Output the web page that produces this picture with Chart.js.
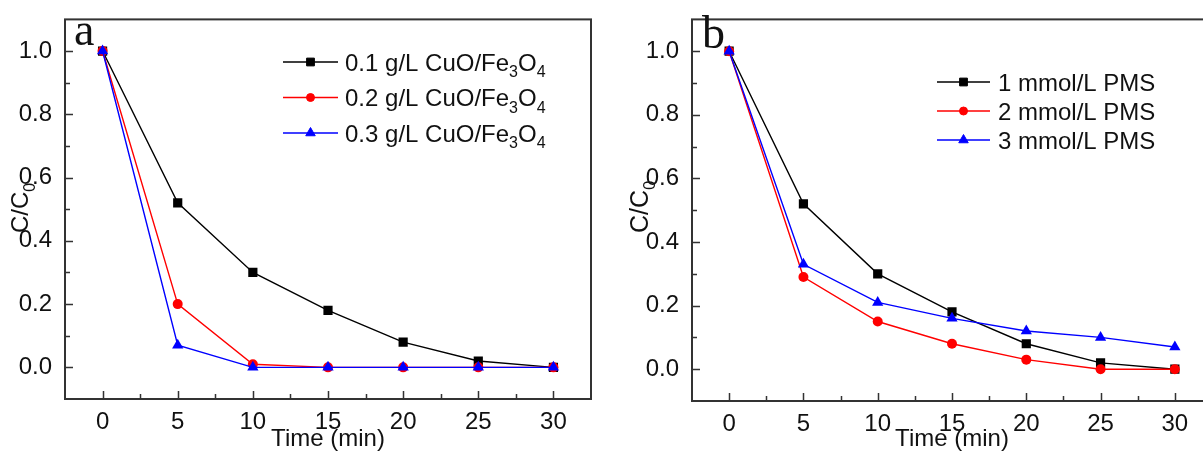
<!DOCTYPE html>
<html lang="en">
<head>
<meta charset="UTF-8">
<title>CuO/Fe3O4 degradation kinetics</title>
<script src="https://cdn.jsdelivr.net/npm/chart.js"></script>
<style>
  html, body { margin: 0; padding: 0; background: #fff; overflow: hidden; }
  .wrap { position: relative; width: 1203px; height: 451px; overflow: hidden; }
  .panel { position: absolute; top: 0; height: 451px; }
  #panelA { left: 0; width: 601px; }
  #panelB { left: 601px; width: 620px; }
</style>
</head>
<body>
<div class="wrap">
  <div class="panel" id="panelA"><canvas id="chartA" width="601" height="451"></canvas></div>
  <div class="panel" id="panelB"><canvas id="chartB" width="620" height="451"></canvas></div>
</div>
<script>
// sampling times (min) and axis ticks
const times = [0, 5, 10, 15, 20, 25, 30];
const xTicks = [0, 5, 10, 15, 20, 25, 30];
const xMinorTicks = [2.5, 7.5, 12.5, 17.5, 22.5, 27.5];
const yTicks = [0, 0.2, 0.4, 0.6, 0.8, 1.0];
const yMinorTicks = [0.1, 0.3, 0.5, 0.7, 0.9];

// (a) catalyst dosage, C/C0
const dose01 = [1.0, 0.52, 0.30, 0.18, 0.08, 0.02, 0.0];
const dose02 = [1.0, 0.20, 0.01, 0.0, 0.0, 0.0, 0.0];
const dose03 = [1.0, 0.07, 0.0, 0.0, 0.0, 0.0, 0.0];
const labelsA = ['0.1 g/L CuO/Fe_3O_4', '0.2 g/L CuO/Fe_3O_4', '0.3 g/L CuO/Fe_3O_4'];

// (b) PMS concentration, C/C0
const pms1 = [1.0, 0.52, 0.30, 0.18, 0.08, 0.02, 0.0];
const pms2 = [1.0, 0.29, 0.15, 0.08, 0.03, 0.0, 0.0];
const pms3 = [1.0, 0.33, 0.21, 0.16, 0.12, 0.10, 0.07];
const labelsB = ['1 mmol/L PMS', '2 mmol/L PMS', '3 mmol/L PMS'];

const FONT = '"Liberation Sans", Arial, sans-serif';
const TEXT = '#111';
const colors = ['#000000', '#ff0000', '#0000ff'];
const styles = ['rect', 'circle', 'triangle'];
const radii = [6.5, 5, 6.5];

// draws a string where "_x" marks a subscript character
function drawRich(ctx, str, x, y, size) {
  const parts = str.split(/(_\d)/).filter(p => p.length);
  ctx.textAlign = 'left';
  ctx.textBaseline = 'alphabetic';
  for (const p of parts) {
    if (p[0] === '_') {
      ctx.font = Math.round(size * 0.68) + 'px ' + FONT;
      ctx.fillText(p.slice(1), x, y + size * 0.28);
      x += ctx.measureText(p.slice(1)).width;
    } else {
      ctx.font = size + 'px ' + FONT;
      ctx.fillText(p, x, y);
      x += ctx.measureText(p).width;
    }
  }
}

function marker(ctx, style, r, color, x, y) {
  ctx.save();
  ctx.fillStyle = color;
  ctx.strokeStyle = color;
  ctx.lineWidth = 1;
  Chart.helpers.drawPoint(ctx, { pointStyle: style, radius: r, rotation: 0, borderWidth: 1 }, x, y);
  ctx.restore();
}

// frame, inward ticks, y title, legend and panel letter
const panelDecor = {
  id: 'panelDecor',
  afterDraw(chart, args, opts) {
    const ctx = chart.ctx;
    const { left, right, top, bottom } = chart.chartArea;
    const xs = chart.scales.x, ys = chart.scales.y;
    ctx.save();
    ctx.strokeStyle = '#333';
    ctx.lineWidth = 2;
    ctx.strokeRect(left, top, right - left, bottom - top);

    ctx.lineWidth = 1.5;
    ctx.beginPath();
    xTicks.forEach(v => { const px = Math.round(xs.getPixelForValue(v)) + 0.5; ctx.moveTo(px, bottom); ctx.lineTo(px, bottom - 8); });
    xMinorTicks.forEach(v => { const px = Math.round(xs.getPixelForValue(v)) + 0.5; ctx.moveTo(px, bottom); ctx.lineTo(px, bottom - 5); });
    yTicks.forEach(v => { const py = Math.round(ys.getPixelForValue(v)) + 0.5; ctx.moveTo(left, py); ctx.lineTo(left + 8, py); });
    yMinorTicks.forEach(v => { const py = Math.round(ys.getPixelForValue(v)) + 0.5; ctx.moveTo(left, py); ctx.lineTo(left + 5, py); });
    ctx.stroke();

    // y axis title C/C0, rotated
    ctx.fillStyle = TEXT;
    ctx.save();
    ctx.translate(opts.yTitle.x, opts.yTitle.y);
    ctx.rotate(-Math.PI / 2);
    drawRich(ctx, 'C/C_0', 0, 0, opts.yTitle.size);
    ctx.restore();

    // legend
    opts.legend.labels.forEach((lab, i) => {
      const y = opts.legend.y + i * opts.legend.gap;
      ctx.strokeStyle = colors[i];
      ctx.lineWidth = 1.3;
      ctx.beginPath();
      ctx.moveTo(opts.legend.x0, y);
      ctx.lineTo(opts.legend.x1, y);
      ctx.stroke();
      marker(ctx, styles[i], radii[i] - 1, colors[i], (opts.legend.x0 + opts.legend.x1) / 2, y);
      ctx.fillStyle = TEXT;
      drawRich(ctx, lab, opts.legend.tx, y + 8.5, 24);
    });

    // panel letter
    ctx.fillStyle = TEXT;
    ctx.font = '46px "Liberation Serif", "Times New Roman", serif';
    ctx.textAlign = 'left';
    ctx.textBaseline = 'alphabetic';
    ctx.fillText(opts.letter.text, opts.letter.x, opts.letter.y);
    ctx.restore();
  }
};

function makeDatasets(series, labels) {
  return series.map((s, i) => ({
    label: labels[i],
    data: times.map((t, k) => ({ x: t, y: s[k] })),
    borderColor: colors[i],
    backgroundColor: colors[i],
    borderWidth: 1.4,
    pointStyle: styles[i],
    pointRadius: radii[i],
    pointBorderWidth: 0,
    pointBackgroundColor: colors[i],
    order: 3 - i,
    tension: 0
  }));
}

function makeChart(id, series, labels, yWidth, xHeight, pad, decor) {
  return new Chart(document.getElementById(id), {
    type: 'line',
    data: { datasets: makeDatasets(series, labels) },
    plugins: [panelDecor],
    options: {
      responsive: false,
      animation: false,
      layout: { padding: pad },
      plugins: { legend: { display: false }, tooltip: { enabled: false }, panelDecor: decor },
      scales: {
        x: {
          type: 'linear', min: -2.5, max: 32.5,
          afterBuildTicks: s => { s.ticks = xTicks.map(v => ({ value: v })); },
          afterFit: s => { s.height = xHeight; },
          grid: { display: false }, border: { display: false },
          ticks: { font: { family: FONT, size: 24 }, color: TEXT, padding: 1, maxRotation: 0, autoSkip: false },
          title: { display: true, text: 'Time (min)', color: TEXT, font: { family: FONT, size: 24, lineHeight: 1 }, padding: 0 }
        },
        y: {
          type: 'linear', min: -0.1, max: 1.1,
          afterBuildTicks: s => { s.ticks = yTicks.map(v => ({ value: v })); },
          afterFit: s => { s.width = yWidth; },
          grid: { display: false }, border: { display: false },
          ticks: { font: { family: FONT, size: 24 }, color: TEXT, padding: 5, callback: v => v.toFixed(1) }
        }
      }
    }
  });
}

makeChart('chartA', [dose01, dose02, dose03], labelsA, 65, 52,
  { top: 13, right: 10, bottom: 0, left: 0 },
  {
    yTitle: { x: 28, y: 233, size: 24 },
    legend: { labels: labelsA, x0: 283, x1: 338, tx: 345, y: 62, gap: 35.5 },
    letter: { text: 'a', x: 74, y: 45 }
  });

makeChart('chartB', [pms1, pms2, pms3], labelsB, 91, 50,
  { top: 14, right: 9, bottom: 0, left: 0 },
  {
    yTitle: { x: 47, y: 233, size: 25 },
    legend: { labels: labelsB, x0: 336, x1: 389, tx: 397, y: 82, gap: 29 },
    letter: { text: 'b', x: 101, y: 48 }
  });
</script>
</body>
</html>
